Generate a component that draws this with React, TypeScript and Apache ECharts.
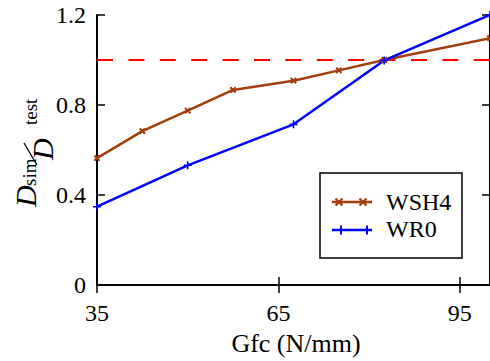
import React, { useEffect, useRef } from "react";
import * as echarts from "echarts";

const xWSH4 = [35, 42.5, 50, 57.5, 67.5, 75, 82.5, 100];
const yWSH4 = [0.564, 0.684, 0.775, 0.867, 0.908, 0.954, 1.0, 1.097];
const xWR0 = [35, 50, 67.5, 82.5, 100];
const yWR0 = [0.348, 0.532, 0.714, 0.998, 1.2];
const refX = [35, 100];
const refY = [1.0, 1.0];
const xTicks = [35, 65, 95];
const seriesNames = ["WSH4", "WR0"];
const xName = "Gfc (N/mm)";

const BROWN = "#A33D0C";
const BLUE = "#0000FF";
const RED = "#FF0000";
const FONT = "Liberation Serif";

const PLUS = "path://M4,0H6V4H10V6H6V10H4V6H0V4H4Z";
const PLUS_BOLD = "path://M3.6,0H6.4V3.6H10V6.4H6.4V10H3.6V6.4H0V3.6H3.6Z";

function zip(xs: number[], ys: number[]) {
  return xs.map((x, i) => [x, ys[i]]);
}

function crossX(cx: number, cy: number, r: number, color: string) {
  return [
    { type: "line", shape: { x1: cx - r, y1: cy - r, x2: cx + r, y2: cy + r }, style: { stroke: color, lineWidth: 2.2 } },
    { type: "line", shape: { x1: cx - r, y1: cy + r, x2: cx + r, y2: cy - r }, style: { stroke: color, lineWidth: 2.2 } },
  ];
}
function crossPlus(cx: number, cy: number, r: number, color: string) {
  return [
    { type: "line", shape: { x1: cx - r, y1: cy, x2: cx + r, y2: cy }, style: { stroke: color, lineWidth: 2 } },
    { type: "line", shape: { x1: cx, y1: cy - r, x2: cx, y2: cy + r }, style: { stroke: color, lineWidth: 2 } },
  ];
}

function txt(x: number, y: number, text: string, size: number, opts: any = {}) {
  return {
    type: "text",
    x,
    y,
    rotation: opts.rotation || 0,
    z: opts.z || 10,
    style: {
      text,
      fill: "#000",
      fontSize: size,
      fontFamily: FONT,
      fontStyle: opts.italic ? "italic" : "normal",
      textAlign: opts.align || "left",
      textVerticalAlign: "middle",
    },
  };
}

export default function App() {
  const ref = useRef<HTMLDivElement>(null);
  useEffect(() => {
    if (!ref.current) return;
    const chart = echarts.init(ref.current, undefined, { renderer: "svg" });
    const axisCommon = {
      axisLine: { show: true, lineStyle: { color: "#000", width: 2 } },
      axisTick: { show: true, inside: true, length: 8, lineStyle: { color: "#000", width: 1.5 } },
      splitLine: { show: false },
    };
    chart.setOption({
      animation: false,
      backgroundColor: "#fff",
      textStyle: { fontFamily: FONT },
      grid: { left: 97, top: 15, right: -5, bottom: 76, containLabel: false },
      xAxis: [
        {
          type: "value",
          min: 35,
          max: 100,
          position: "bottom",
          ...axisCommon,
          axisTick: { ...axisCommon.axisTick, customValues: xTicks },
          axisLabel: {
            customValues: xTicks,
            color: "#000",
            fontSize: 24,
            fontFamily: FONT,
            margin: 16,
          },
        },
        {
          type: "value",
          min: 35,
          max: 100,
          position: "top",
          ...axisCommon,
          axisTick: { ...axisCommon.axisTick, customValues: xTicks },
          axisLabel: { show: false },
        },
      ],
      yAxis: [
        {
          type: "value",
          min: 0,
          max: 1.2,
          interval: 0.4,
          position: "left",
          ...axisCommon,
          axisLabel: {
            color: "#000",
            fontSize: 24,
            fontFamily: FONT,
            margin: 11,
            formatter: (v: number) => (Math.abs(v) < 1e-9 ? "0" : v.toFixed(1)),
          },
        },
        {
          type: "value",
          min: 0,
          max: 1.2,
          interval: 0.4,
          position: "right",
          ...axisCommon,
          axisLabel: { show: false },
        },
      ],
      series: [
        {
          type: "line",
          data: zip(refX, refY),
          symbol: "none",
          silent: true,
          lineStyle: { color: RED, width: 2, type: [16, 15.4] },
        },
        {
          name: seriesNames[0],
          type: "line",
          data: zip(xWSH4, yWSH4),
          symbol: PLUS_BOLD,
          symbolSize: 7.5,
          symbolRotate: 45,
          itemStyle: { color: BROWN },
          lineStyle: { color: BROWN, width: 2.5 },
        },
        {
          name: seriesNames[1],
          type: "line",
          data: zip(xWR0, yWR0),
          symbol: PLUS,
          symbolSize: 8,
          itemStyle: { color: BLUE },
          lineStyle: { color: BLUE, width: 2.5 },
        },
      ],
      graphic: [
        { type: "rect", shape: { x: 320, y: 173, width: 142, height: 85 }, style: { fill: "#fff", stroke: "#000", lineWidth: 1.5 }, z: 100 },
        { type: "line", shape: { x1: 332, y1: 202, x2: 372, y2: 202 }, style: { stroke: BROWN, lineWidth: 2.5 }, z: 101 },
        ...crossX(339, 202, 3.5, BROWN).map((e) => ({ ...e, z: 102 })),
        ...crossX(363, 202, 3.5, BROWN).map((e) => ({ ...e, z: 102 })),
        { type: "line", shape: { x1: 332, y1: 230, x2: 372, y2: 230 }, style: { stroke: BLUE, lineWidth: 2.5 }, z: 101 },
        ...crossPlus(341, 230, 4.5, BLUE).map((e) => ({ ...e, z: 102 })),
        ...crossPlus(367, 230, 4.5, BLUE).map((e) => ({ ...e, z: 102 })),
        txt(386, 201.5, seriesNames[0], 24, { z: 103 }),
        txt(386, 229, seriesNames[1], 24, { z: 103 }),
        txt(296, 343, xName, 26, { align: "center" }),
        txt(25, 207, "D", 30, { italic: true, rotation: Math.PI / 2 }),
        txt(29.5, 186, "sim", 19, { rotation: Math.PI / 2 }),
        { type: "line", shape: { x1: 24, y1: 143, x2: 37, y2: 165 }, style: { stroke: "#000", lineWidth: 1.3 } },
        txt(42, 160, "D", 30, { italic: true, rotation: Math.PI / 2 }),
        txt(30, 125, "test", 19, { rotation: Math.PI / 2 }),
      ],
    });
    return () => chart.dispose();
  }, []);
  return <div ref={ref} style={{ width: 490, height: 361, position: "absolute", left: 0, top: 0 }} />;
}
